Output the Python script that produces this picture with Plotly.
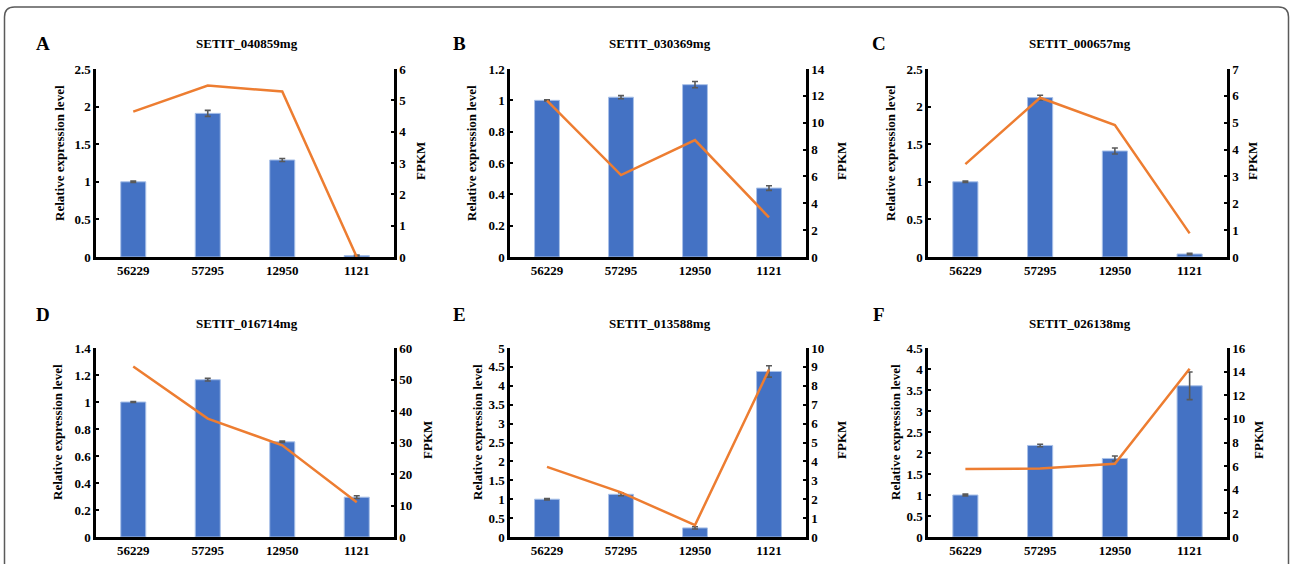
import plotly.graph_objects as go

W, H = 1290, 564

categories = ["56229", "57295", "12950", "1121"]
panel_letters = ["A", "B", "C", "D", "E", "F"]
gene_names = ["SETIT_040859mg", "SETIT_030369mg", "SETIT_000657mg",
              "SETIT_016714mg", "SETIT_013588mg", "SETIT_026138mg"]

# Relative expression (bars) and error bars
rel_A = [1.0, 1.91, 1.29, 0.02]
err_A = [0.01, 0.04, 0.02, 0.005]
rel_B = [1.0, 1.02, 1.10, 0.44]
err_B = [0.004, 0.01, 0.02, 0.015]
rel_C = [1.0, 2.12, 1.41, 0.04]
err_C = [0.01, 0.03, 0.04, 0.01]
rel_D = [1.0, 1.165, 0.705, 0.295]
err_D = [0.003, 0.01, 0.005, 0.01]
rel_E = [1.0, 1.13, 0.24, 4.38]
err_E = [0.02, 0.04, 0.03, 0.15]
rel_F = [1.0, 2.18, 1.87, 3.60]
err_F = [0.02, 0.03, 0.06, 0.33]

# FPKM (line)
fpkm_A = [4.64, 5.47, 5.28, 0.0]
fpkm_B = [11.64, 6.10, 8.71, 2.95]
fpkm_C = [3.46, 5.93, 4.91, 0.88]
fpkm_D = [54.1, 37.6, 29.1, 11.0]
fpkm_E = [3.71, 2.36, 0.63, 8.86]
fpkm_F = [5.75, 5.80, 6.20, 14.25]

# axis ranges / steps (left: relative, right: FPKM)
left_max = [2.5, 1.2, 2.5, 1.4, 5, 4.5]
left_step = [0.5, 0.2, 0.5, 0.2, 0.5, 0.5]
right_max = [6, 14, 7, 60, 10, 16]
right_step = [1, 2, 1, 10, 1, 2]

rels = [rel_A, rel_B, rel_C, rel_D, rel_E, rel_F]
errs = [err_A, err_B, err_C, err_D, err_E, err_F]
fpkms = [fpkm_A, fpkm_B, fpkm_C, fpkm_D, fpkm_E, fpkm_F]

# layout geometry (screen pixels)
col_x = [(96, 394), (510, 806), (928, 1227)]
row_y = [(69, 257), (348, 537)]

FONT = "Liberation Serif"
BAR = "#4472C4"
LINE = "#ED7D31"


def fx(px):
    return px / W


def fy(py):
    return 1 - py / H


fig = go.Figure()
layout = dict(
    template="none",
    width=W, height=H,
    margin=dict(l=0, r=0, t=0, b=0, pad=0, autoexpand=False),
    paper_bgcolor="white", plot_bgcolor="white", showlegend=False,
    bargap=0.664, font=dict(family=FONT, size=13, color="black"),
)
annotations = []

for i in range(6):
    r, c = divmod(i, 3)
    x0, x1 = col_x[c]
    y0, y1 = row_y[r]
    xn = i + 1
    yl = 2 * i + 1
    yr = 2 * i + 2
    xname = "x" if xn == 1 else f"x{xn}"
    ylname = "y" if yl == 1 else f"y{yl}"
    yrname = f"y{yr}"

    fig.add_trace(go.Bar(
        x=categories, y=rels[i], xaxis=xname, yaxis=ylname,
        marker=dict(color=BAR, line=dict(color="#A9C1E8", width=1)),
        error_y=dict(type="data", array=errs[i], color="#595959",
                     thickness=1.6, width=3),
    ))
    fig.add_trace(go.Scatter(
        x=categories, y=fpkms[i], xaxis=xname, yaxis=yrname,
        mode="lines", line=dict(color=LINE, width=2.5),
    ))

    tickfont = dict(family=FONT, size=13, color="black", weight="bold")
    layout[f"xaxis{xn}"] = dict(
        domain=[fx(x0), fx(x1)], anchor=ylname, type="category",
        showline=True, linewidth=2.5, linecolor="black", ticks="",
        tickfont=tickfont, showgrid=False, zeroline=False,
        range=[-0.5, 3.5], fixedrange=True, automargin=False,
    )
    layout[f"yaxis{yl}"] = dict(
        domain=[fy(y1), fy(y0)], anchor=xname,
        range=[0, left_max[i]], dtick=left_step[i], tick0=0,
        showline=True, linewidth=2.5, linecolor="black",
        ticks="inside", ticklen=3, tickwidth=2, tickcolor="black",
        tickfont=tickfont, showgrid=False, zeroline=False, automargin=False,
    )
    layout[f"yaxis{yr}"] = dict(
        domain=[fy(y1), fy(y0)], anchor=xname, overlaying=ylname,
        side="right", range=[0, right_max[i]], dtick=right_step[i], tick0=0,
        showline=True, linewidth=2.5, linecolor="black",
        ticks="inside", ticklen=3, tickwidth=2, tickcolor="black",
        tickfont=tickfont, showgrid=False, zeroline=False, automargin=False,
    )

    # panel letter
    letter_x = [43, 459, 879][c]
    letter_y = [43, 315][r]
    annotations.append(dict(
        text=panel_letters[i], x=fx(letter_x), y=fy(letter_y),
        xref="paper", yref="paper", showarrow=False,
        xanchor="center", yanchor="middle",
        font=dict(family=FONT, size=19, color="black", weight="bold"),
    ))
    # gene title
    title_y = [43, 323][r]
    annotations.append(dict(
        text=gene_names[i], x=fx((x0 + x1) / 2 + 2), y=fy(title_y),
        xref="paper", yref="paper", showarrow=False,
        xanchor="center", yanchor="middle",
        font=dict(family=FONT, size=13, color="black", weight="bold"),
    ))
    # left axis title
    lt_off = [36, 38, 37, 39, 33, 33][i]
    annotations.append(dict(
        text="Relative expression level", x=fx(x0 - lt_off), y=fy(y0 + 84),
        xref="paper", yref="paper", showarrow=False, textangle=-90,
        xanchor="center", yanchor="middle",
        font=dict(family=FONT, size=13, color="black", weight="bold"),
    ))
    # right axis title
    rt_off = [27, 36, 26, 33, 35, 31][i]
    annotations.append(dict(
        text="FPKM", x=fx(x1 + rt_off), y=fy(y0 + 92),
        xref="paper", yref="paper", showarrow=False, textangle=-90,
        xanchor="center", yanchor="middle",
        font=dict(family=FONT, size=13, color="black", weight="bold"),
    ))

layout["annotations"] = annotations

# rounded outer frame
bx0, bx1, by0, byb, rad = 4.5, 1288.5, 7, 580, 10
path = (f"M {fx(bx0)},{fy(byb)} L {fx(bx0)},{fy(by0 + rad)} "
        f"Q {fx(bx0)},{fy(by0)} {fx(bx0 + rad)},{fy(by0)} "
        f"L {fx(bx1 - rad)},{fy(by0)} "
        f"Q {fx(bx1)},{fy(by0)} {fx(bx1)},{fy(by0 + rad)} "
        f"L {fx(bx1)},{fy(byb)}")
layout["shapes"] = [dict(type="path", path=path, xref="paper", yref="paper",
                         line=dict(color="#5a5a5a", width=1.5))]

fig.update_layout(**layout)
fig.write_html(
    "out.html",
    config={"displayModeBar": False},
    post_script=(
        "document.documentElement.style.margin='0';"
        "document.documentElement.style.overflow='hidden';"
        "document.body.style.margin='0';"
        "document.body.style.overflow='hidden';"
        "var gd=document.getElementById('{plot_id}');"
        "gd.style.position='fixed';gd.style.top='0px';gd.style.left='0px';"
    ),
)
